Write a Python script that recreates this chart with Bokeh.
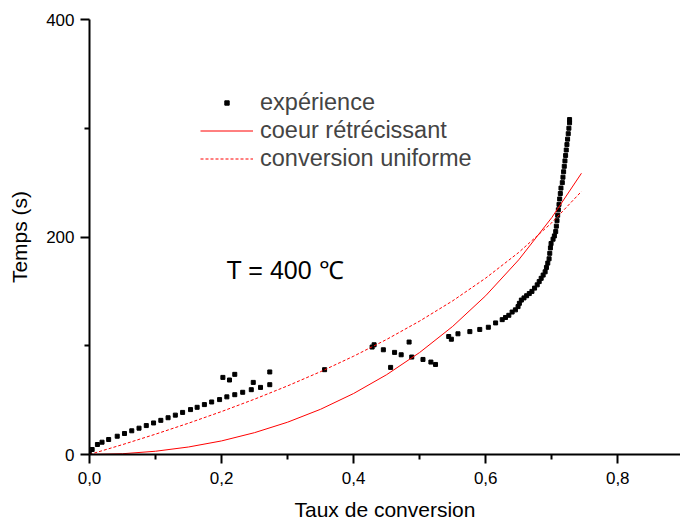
from bokeh.plotting import figure
from bokeh.models import Range1d, FixedTicker, Legend, LegendItem, Label
from bokeh.embed import file_html
from bokeh.resources import INLINE

# experimental points (taux de conversion, temps en s)
exp_x = [0, 0.004, 0.012, 0.019, 0.029, 0.042, 0.053, 0.064, 0.075, 0.086, 0.097, 0.108,
         0.119, 0.130, 0.141, 0.153, 0.163, 0.174, 0.185, 0.197, 0.208, 0.220, 0.232,
         0.245, 0.259, 0.273,
         0.202, 0.212, 0.220, 0.248, 0.273, 0.356,
         0.428, 0.431, 0.445, 0.462, 0.472, 0.484, 0.456, 0.488, 0.505, 0.517, 0.524,
         0.544, 0.548, 0.558, 0.576, 0.591, 0.604, 0.615, 0.625,
         0.630, 0.635, 0.640, 0.645, 0.649, 0.651, 0.654, 0.658, 0.662, 0.666, 0.670,
         0.674, 0.678, 0.681, 0.684, 0.687, 0.690, 0.692, 0.694, 0.696, 0.697, 0.698,
         0.699, 0.702, 0.704, 0.706, 0.707, 0.708, 0.709, 0.710, 0.711, 0.712, 0.713,
         0.714, 0.716, 0.717, 0.718, 0.719, 0.720, 0.721, 0.722, 0.723, 0.724, 0.725,
         0.726, 0.727, 0.727]
exp_y = [0, 4.6, 9.2, 11.3, 13.8, 16.8, 19.3, 21.8, 24.2, 26.6, 29.0, 31.4,
         33.8, 36.2, 38.7, 41.3, 43.4, 45.9, 48.3, 50.5, 53.0, 55.0, 57.2,
         59.6, 61.7, 64.2,
         70.9, 68.5, 73.7, 66.3, 75.9, 78.0,
         98.8, 100.9, 96.3, 93.9, 91.7, 103.4, 80.1, 89.6, 87.4, 85.0, 82.8,
         108.5, 106.0, 111.0, 113.0, 115.0, 117.0, 121.0, 124.0,
         126, 128, 131, 133, 136, 139, 142, 144, 146, 148, 150,
         153, 156, 159, 162, 165, 168, 172, 176, 180, 185, 190,
         194, 198, 201, 205, 210, 215, 220, 225, 230, 235, 240,
         245, 250, 255, 260, 265, 270, 275, 280, 285, 290, 295,
         300, 305, 308]

# model curves
model_x = [0, 0.05, 0.10, 0.15, 0.20, 0.25, 0.30, 0.35, 0.40, 0.45, 0.50, 0.55,
           0.60, 0.65, 0.70, 0.745]
core_y = [0, 0.7, 3.0, 6.9, 12.5, 20.1, 29.7, 41.6, 56.1, 73.4, 93.8, 117.8,
          146.0, 179.0, 217.8, 258.6]
uniform_y = [0, 9.1, 18.7, 28.8, 39.5, 50.9, 63.1, 76.2, 90.4, 105.8, 122.7, 141.3,
             162.2, 185.8, 213.1, 241.9]

xticks = [0, 0.2, 0.4, 0.6, 0.8]
xtick_labels = ["0,0", "0,2", "0,4", "0,6", "0,8"]
xminor = [0.1, 0.3, 0.5, 0.7]
yticks = [0, 200, 400]
yminor = [100, 300]

FONT = "Liberation Sans"

p = figure(width=680, height=523, output_backend="svg", toolbar_location=None,
           x_range=Range1d(0, 0.895), y_range=Range1d(0, 400),
           min_border_left=89, min_border_right=0, min_border_top=19, min_border_bottom=68)
p.outline_line_color = None
p.xgrid.visible = False
p.ygrid.visible = False
p.background_fill_color = "white"

r_exp = p.scatter(exp_x, exp_y, marker="square", size=4, color="black")
r_core = p.line(model_x, core_y, line_color="#ff0000", line_width=1)
r_uni = p.line(model_x, uniform_y, line_color="#ff0000", line_width=1, line_dash="3 2")

for ax in (p.xaxis[0], p.yaxis[0]):
    ax.axis_line_width = 2
    ax.major_tick_line_width = 2
    ax.minor_tick_line_width = 2
    ax.major_tick_in = 0
    ax.major_tick_out = 9
    ax.minor_tick_in = 0
    ax.minor_tick_out = 5
    ax.major_label_text_font = FONT
    ax.major_label_text_font_size = "17px"
    ax.major_label_text_color = "black"
    ax.axis_label_text_font = FONT
    ax.axis_label_text_font_size = "21px"
    ax.axis_label_text_font_style = "normal"
    ax.axis_label_text_color = "black"

p.xaxis.ticker = FixedTicker(ticks=xticks, minor_ticks=xminor)
p.xaxis.major_label_overrides = dict(zip(xticks, xtick_labels))
p.xaxis.axis_label = "Taux de conversion"
p.xaxis.major_label_standoff = 8
p.xaxis.axis_label_standoff = 11

p.yaxis.ticker = FixedTicker(ticks=yticks, minor_ticks=yminor)
p.yaxis.axis_label = "Temps (s)"
p.yaxis.major_label_standoff = 6
p.yaxis.axis_label_standoff = 12

legend = Legend(items=[LegendItem(label="expérience", renderers=[r_exp]),
                       LegendItem(label="coeur rétrécissant", renderers=[r_core]),
                       LegendItem(label="conversion uniforme", renderers=[r_uni])],
                location=(111, 282), padding=0, margin=0, spacing=1,
                glyph_width=53, glyph_height=11, label_height=24, label_standoff=7,
                label_text_font=FONT, label_text_font_size="23.5px",
                border_line_alpha=0, background_fill_alpha=0)
p.add_layout(legend)

p.add_layout(Label(x=0.2076, y=169.7, text="T = 400 ℃", text_font=FONT,
                   text_font_size="25px", text_baseline="middle", text_color="black"))

open("out.html", "w").write(file_html(p, INLINE))
